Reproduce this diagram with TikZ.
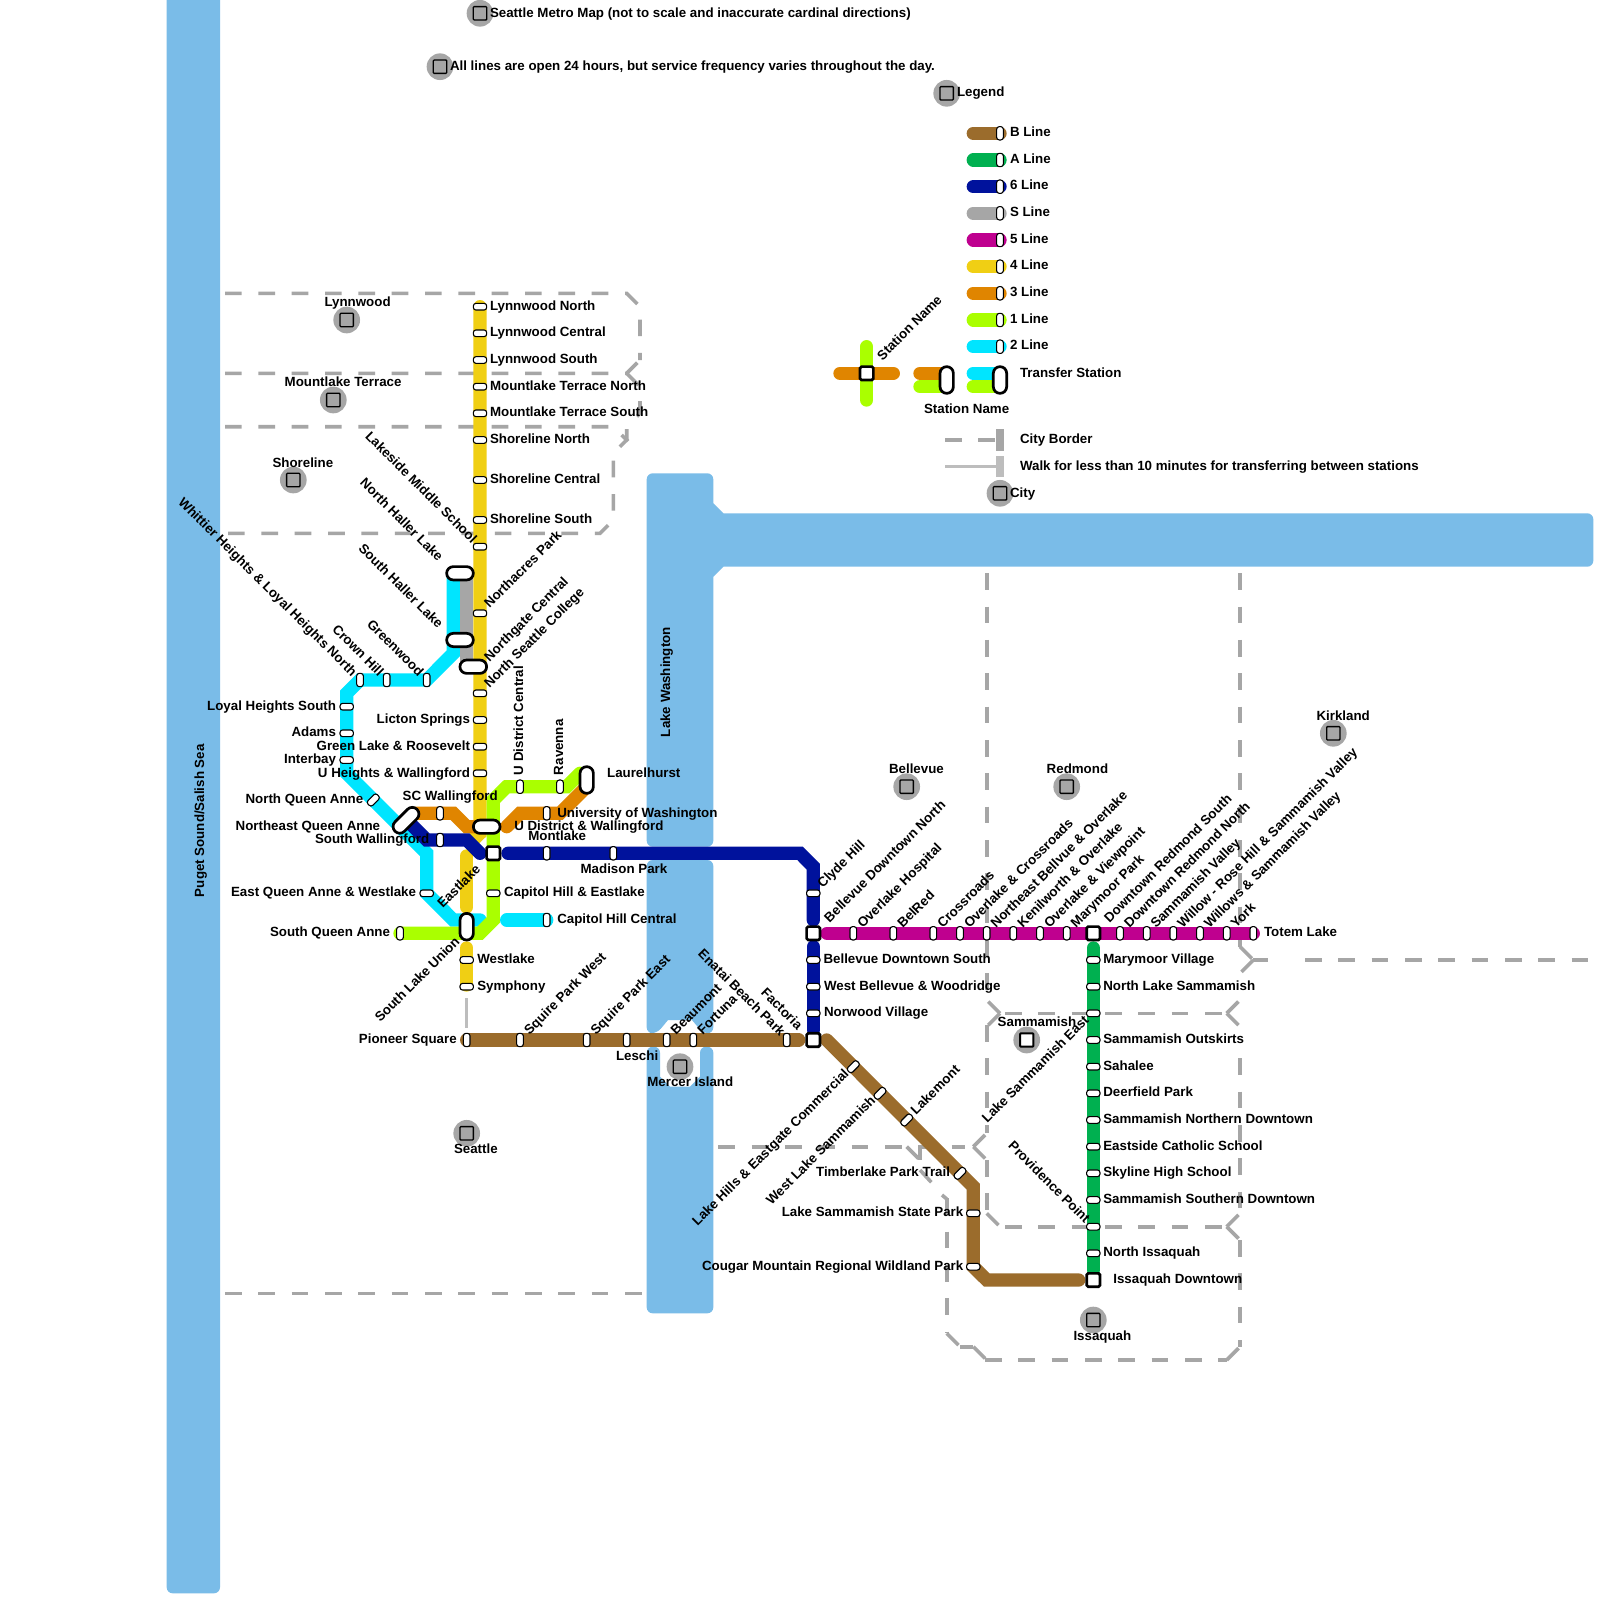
\documentclass[tikz,border=0pt]{standalone}
\usepackage{fontspec}
\setmainfont{Liberation Sans}
\newcounter{lblc}
\definecolor{cLake}{HTML}{7ABCE8}
\definecolor{cB}{HTML}{9B6C2C}
\definecolor{cA}{HTML}{00B050}
\definecolor{cSix}{HTML}{00129C}
\definecolor{cS}{HTML}{A6A6A6}
\definecolor{cFive}{HTML}{BF008F}
\definecolor{cFour}{HTML}{F0CF14}
\definecolor{cThree}{HTML}{E08500}
\definecolor{cOne}{HTML}{AAFF00}
\definecolor{cTwo}{HTML}{00E5FF}
\definecolor{cBorder}{HTML}{A6A6A6}
\definecolor{cWalk}{HTML}{BDBDBD}
\tikzset{
 lake/.style={fill=cLake,draw=none},
 metro/.style={line width=13.33pt,line cap=round,line join=miter,miter limit=10},
 border/.style={draw=cBorder,line width=3.6pt,dash pattern=on 16.67pt off 16.67pt,line cap=butt},
 walkline/.style={draw=cWalk,line width=2.7pt},
 txt/.style={inner sep=0pt,outer sep=0pt,font=\fontsize{13.33pt}{16pt}\selectfont\bfseries},
 stH/.style={draw=black,fill=white,line width=1.1pt,rectangle,rounded corners=2.6pt,inner sep=0pt,minimum width=13.33pt,minimum height=6.67pt},
 stV/.style={draw=black,fill=white,line width=1.1pt,rectangle,rounded corners=2.6pt,inner sep=0pt,minimum width=6.67pt,minimum height=13.33pt},
 stD/.style={stH,rotate=45},
 xferH/.style={draw=black,fill=white,line width=2.7pt,rectangle,rounded corners=6.6pt,inner sep=0pt,minimum width=26.67pt,minimum height=13.33pt},
 xferV/.style={draw=black,fill=white,line width=2.7pt,rectangle,rounded corners=6.6pt,inner sep=0pt,minimum width=13.33pt,minimum height=26.67pt},
 xferD/.style={xferH,minimum width=31pt,rotate=45},
 sqst/.style={draw=black,fill=white,line width=2.7pt,rectangle,rounded corners=1.5pt,inner sep=0pt,minimum size=13.33pt},
 cityc/.style={circle,fill=cS,draw=none,inner sep=0pt,minimum size=26.67pt},
 citys/.style={rectangle,draw=black,fill=cS,line width=1.3pt,rounded corners=.8pt,inner sep=0pt,minimum size=13.33pt},
 cityw/.style={citys,fill=white,line width=2pt},
}
\newcommand\TL[3]{\stepcounter{lblc}\node[txt,anchor=base west] (t\arabic{lblc}) at (#1,#2) {#3};}
\newcommand\TR[3]{\stepcounter{lblc}\node[txt,anchor=base east] (t\arabic{lblc}) at (#1,#2) {#3};}
\newcommand\TU[3]{\stepcounter{lblc}\node[txt,anchor=base west,rotate=45] (t\arabic{lblc}) at ([shift={(-0.5,2)}]#1,#2) {#3};}
\newcommand\TE[3]{\stepcounter{lblc}\node[txt,anchor=base east,rotate=45] (t\arabic{lblc}) at ([shift={(-0.5,-2)}]#1,#2) {#3};}
\newcommand\TD[3]{\stepcounter{lblc}\node[txt,anchor=base east,rotate=-45] (t\arabic{lblc}) at ([shift={(4.5,4)}]#1,#2) {#3};}
\newcommand\TV[3]{\stepcounter{lblc}\node[txt,anchor=base west,rotate=90] (t\arabic{lblc}) at (#1,#2) {#3};}
\newcommand\City[4][citys]{\node[cityc] (cc#2) at (#3,#4) {};\node[#1] (cs#2) at (#3,#4) {};}
\newcommand\Cc[3]{\coordinate (#1) at (#2,#3);}
\begin{document}
\begin{tikzpicture}[x=1pt,y=-1pt]
\useasboundingbox (0,0) rectangle (1600,1600);
\clip (0,0) rectangle (1600,1600);
\fill[white] (0,0) rectangle (1600,1600);
% water
\fill[lake,rounded corners=6pt] (166.7,-20) -- (220,-20) -- (220,1593.3) -- (166.7,1593.3) -- cycle;
\fill[lake,rounded corners=6pt] (646.7,473.3) -- (713.3,473.3) [sharp corners] -- (713.3,503.3) -- (723.3,513.3) [rounded corners=6pt] -- (1593.3,513.3) -- (1593.3,566.7) [sharp corners] -- (723.3,566.7) -- (713.3,576.7) [rounded corners=6pt] -- (713.3,846.7) -- (646.7,846.7) -- cycle;
\fill[lake,rounded corners=6pt] (646.7,860) -- (713.3,860) -- (713.3,1033.3) -- (703,1033.3) [sharp corners] -- (692,1020) -- (668,1020) [rounded corners=6pt] -- (657,1033.3) -- (646.7,1033.3) -- cycle;
\fill[lake,rounded corners=6pt] (646.7,1046.7) -- (660,1046.7) [sharp corners] -- (660,1076.7) -- (670,1086.7) -- (690,1086.7) -- (700,1076.7) [rounded corners=6pt] -- (700,1046.7) -- (713.3,1046.7) -- (713.3,1313.3) -- (646.7,1313.3) -- cycle;
% city borders: north-west
\draw[border] (225,293.3) -- (626.7,293.3) -- (640,306.7) -- (640,360);
\draw[border] (225,373.3) -- (626.7,373.3) -- (640,360);
\draw[border] (626.7,373.3) -- (640,386.7) -- (640,413.3) -- (626.7,426.7) -- (626.7,440);
\draw[border] (225,426.7) -- (613.3,426.7) -- (626.7,440) -- (613.3,453.3) -- (613.3,520) -- (600,533.3) -- (225,533.3);
\draw[border] (225,1293.3) -- (647,1293.3);
% city borders: east
\draw[border] (986.7,573.3) -- (986.7,1000);
\draw[border] (1240,573.3) -- (1240,946.7);
\draw[border] (1240,946.7) -- (1253.3,960);
\draw[border] (1253.3,960) -- (1240,973.3);
\draw[border] (1253.3,960) -- (1268,960);
\draw[border] (1305,960) -- (1600,960);
\draw[border] (1226.7,1013.3) -- (1240,1000);
\draw[border] (1226.7,1013.3) -- (1240,1026.7);
\draw[border] (1000,1013.3) -- (986.7,1000);
\draw[border] (1000,1013.3) -- (986.7,1026.7);
\draw[border] (1005,1013.3) -- (1226.7,1013.3);
\draw[border] (986.7,1025) -- (986.7,1133.3);
\draw[border] (973.3,1146.7) -- (986.7,1133.3);
\draw[border] (973.3,1146.7) -- (986.7,1160);
\draw[border] (986.7,1160) -- (986.7,1213.3);
\draw[border] (986.7,1213.3) -- (1000,1226.7);
\draw[border] (1005,1226.7) -- (1226.7,1226.7);
\draw[border] (1240,1058.3) -- (1240,1213.3);
\draw[border] (1226.7,1226.7) -- (1240,1213.3);
\draw[border] (1226.7,1226.7) -- (1240,1240);
\draw[border] (1240,1240) -- (1240,1346.7);
\draw[border] (1226.7,1360) -- (1240,1346.7);
\draw[border] (985,1360) -- (1226.7,1360);
% city borders: south
\draw[border] (718.3,1146.7) -- (965,1146.7);
\draw[border] (920,1146.7) -- (920,1160);
\draw[border] (906.7,1146.7) -- (920,1160);
\draw[border] (920,1170) -- (932,1183);
\draw[border] (942,1195) -- (946.7,1199);
\draw[border] (946.7,1198.3) -- (946.7,1333.3);
\draw[border] (946.7,1333.3) -- (960,1346.7);
\draw[border] (960,1346.7) -- (973.3,1346.7);
\draw[border] (973.3,1346.7) -- (986.7,1360);
% walking link
\Cc{wa}{466.7}{998}\Cc{wb}{466.7}{1028}
\draw[walkline] (wa) -- (wb);
% line coordinates
\Cc{yA}{480}{306.7}\Cc{yB}{480}{833.3}\Cc{yC}{473}{840}
\Cc{yD}{466.7}{856}\Cc{yE}{466.7}{907}\Cc{yF}{466.7}{948}\Cc{yG}{466.7}{985}
\Cc{sA}{466.7}{573.3}\Cc{sB}{466.7}{666.7}
\Cc{cA}{453.3}{573.3}\Cc{cB}{453.3}{653.3}\Cc{cC}{426.7}{680}\Cc{cD}{360}{680}\Cc{cE}{346.7}{693.3}\Cc{cF}{346.7}{773.3}\Cc{cG}{426.7}{853.3}\Cc{cH}{426.7}{893.3}\Cc{cI}{453.3}{920}\Cc{cJ}{480}{920}
\Cc{cK}{506.7}{920}\Cc{cL}{546.7}{920}
\Cc{lA}{400}{933.3}\Cc{lB}{480}{933.3}\Cc{lC}{493.3}{920}\Cc{lD}{493.3}{800}\Cc{lE}{506.7}{786.7}\Cc{lF}{566.7}{786.7}\Cc{lG}{580}{773.3}
\Cc{oA}{416}{813.3}\Cc{oB}{453.3}{813.3}\Cc{oC}{466.7}{826.7}\Cc{oD}{486.7}{826.7}
\Cc{oE}{506.7}{826.7}\Cc{oF}{520}{813.3}\Cc{oG}{560}{813.3}\Cc{oH}{586.7}{786.7}
\Cc{bA}{409}{822.3}\Cc{bB}{426.7}{840}\Cc{bC}{466.7}{840}\Cc{bD}{480}{853.3}
\Cc{bE}{508}{853.3}\Cc{bF}{800}{853.3}\Cc{bG}{813.3}{866.7}\Cc{bH}{813.3}{920}
\Cc{bI}{813.3}{946.7}\Cc{bJ}{813.3}{1030}
\Cc{uA}{466.7}{1040}\Cc{uB}{798.7}{1040}\Cc{uC}{826.7}{1040}\Cc{uD}{973.3}{1186.7}\Cc{uE}{973.3}{1266.7}\Cc{uF}{986.7}{1280}\Cc{uG}{1078.7}{1280}
\Cc{mA}{827}{933.3}\Cc{mB}{1253.3}{933.3}
\Cc{gA}{1093.3}{948}\Cc{gB}{1093.3}{1270}
% metro lines
\draw[metro,cFour] (yA) -- (yB) -- (yC);
\draw[metro,cFour] (yD) -- (yE);
\draw[metro,cFour] (yF) -- (yG);
\draw[metro,cS] (sA) -- (sB);
\draw[metro,cTwo] (cA) -- (cB) -- (cC) -- (cD) -- (cE) -- (cF) -- (cG) -- (cH) -- (cI) -- (cJ);
\draw[metro,cTwo] (cK) -- (cL);
\draw[metro,cOne] (lA) -- (lB) -- (lC) -- (lD) -- (lE) -- (lF) -- (lG);
\draw[metro,cThree] (oA) -- (oB) -- (oC) -- (oD);
\draw[metro,cThree] (oE) -- (oF) -- (oG) -- (oH);
\draw[metro,cSix] (bA) -- (bB) -- (bC) -- (bD);
\draw[metro,cSix] (bE) -- (bF) -- (bG) -- (bH);
\draw[metro,cSix] (bI) -- (bJ);
\draw[metro,cB] (uA) -- (uB);
\draw[metro,cB] (uC) -- (uD) -- (uE) -- (uF) -- (uG);
\draw[metro,cFive] (mA) -- (mB);
\draw[metro,cA] (gA) -- (gB);
% 4 line stations
\foreach \n/\y in {a/306.7,b/333.3,c/360,d/386.7,e/413.3,f/440,g/480,h/520,i/546.7,j/613.3,k/693.3,l/720,m/746.7,n/773.3}{\node[stH] (y\n) at (480,\y) {};}
\node[stH] (yo) at (466.7,960) {};
\node[stH] (yp) at (466.7,986.7) {};
% 2 line stations
\foreach \n/\x in {a/360,b/386.7,c/426.7}{\node[stV] (c\n) at (\x,680) {};}
\foreach \n/\y in {d/706.7,e/733.3,f/760}{\node[stH] (c\n) at (346.7,\y) {};}
\node[stD] (cq) at (373.3,800) {};
\node[stH] (cr) at (426.7,893.3) {};
\node[stV] (cs) at (546.7,920) {};
% 1 line stations
\node[stV] (la) at (400,933.3) {};
\node[stH] (lb) at (493.3,893.3) {};
\node[stV] (lc) at (520,786.7) {};
\node[stV] (ld) at (560,786.7) {};
% 3 line stations
\node[stV] (oa) at (440,813.3) {};
\node[stV] (ob) at (546.7,813.3) {};
% 6 line stations
\node[stV] (ba) at (440,840) {};
\node[stV] (bb) at (546.7,853.3) {};
\node[stV] (bc) at (613.3,853.3) {};
\foreach \n/\y in {d/893.3,e/960,f/986.7,g/1013.3}{\node[stH] (b\n) at (813.3,\y) {};}
% B line stations
\foreach \n/\x in {a/466.7,b/520,c/586.7,d/626.7,e/666.7,f/693.3,g/786.7}{\node[stV] (u\n) at (\x,1040) {};}
\node[stD] (uh) at (853.3,1066.7) {};
\node[stD] (ui) at (880,1093.3) {};
\node[stD] (uj) at (906.7,1120) {};
\node[stD] (uk) at (960,1173.3) {};
\node[stH] (ul) at (973.3,1213.3) {};
\node[stH] (um) at (973.3,1266.7) {};
% 5 line stations
\foreach \n/\x in {a/853.3,b/893.3,c/933.3,d/960,e/986.7,f/1013.3,g/1040,h/1066.7,i/1120,j/1146.7,k/1173.3,l/1200,m/1226.7,n/1253.3}{\node[stV] (m\n) at (\x,933.3) {};}
% A line stations
\foreach \n/\y in {a/960,b/986.7,c/1013.3,d/1040,e/1066.7,f/1093.3,g/1120,h/1146.7,i/1173.3,j/1200,k/1226.7,l/1253.3}{\node[stH] (g\n) at (1093.3,\y) {};}
% transfers
\node[xferV] (x1) at (466.7,926.7) {};
\node[xferV] (x2) at (586.7,780) {};
\node[xferH] (x3) at (460,573.3) {};
\node[xferH] (x4) at (460,640) {};
\node[xferH] (x5) at (473.3,666.7) {};
\node[xferH] (x6) at (486.7,826.7) {};
\node[xferD] (x7) at (406,820.3) {};
\node[sqst] (q1) at (493.3,853.3) {};
\node[sqst] (q2) at (813.3,933.3) {};
\node[sqst] (q3) at (813.3,1040) {};
\node[sqst] (q4) at (1093.3,933.3) {};
\node[sqst] (q5) at (1093.3,1280) {};
% legend lines
\foreach \n/\c/\y in {a/cB/133.3,b/cA/160,c/cSix/186.7,d/cS/213.3,e/cFive/240,f/cFour/266.7,g/cThree/293.3,h/cOne/320,i/cTwo/346.7}{
 \coordinate (ls\n) at (973.3,\y);
 \coordinate (le\n) at (1000,\y);
 \draw[metro,\c] (ls\n) -- (le\n);
 \node[stV] (lg\n) at (1000,\y) {};
}
\TL{1010}{136.5}{B Line}\TL{1010}{163.2}{A Line}\TL{1010}{189.9}{6 Line}\TL{1010}{216.5}{S Line}\TL{1010}{243.2}{5 Line}\TL{1010}{269.9}{4 Line}\TL{1010}{296.5}{3 Line}\TL{1010}{323.2}{1 Line}\TL{1010}{349.9}{2 Line}
% legend transfer samples
\Cc{eA}{840}{373.3}\Cc{eB}{893.3}{373.3}\Cc{eC}{866.7}{346.7}\Cc{eD}{866.7}{400}
\draw[metro,cThree] (eA) -- (eB);
\draw[metro,cOne] (eC) -- (eD);
\node[sqst] (eq) at (866.7,373.3) {};
\Cc{fA}{920}{373.3}\Cc{fB}{946.7}{373.3}\Cc{fC}{920}{386.7}\Cc{fD}{946.7}{386.7}
\draw[metro,cThree] (fA) -- (fB);
\draw[metro,cOne] (fC) -- (fD);
\node[xferV] (ex) at (946.7,380) {};
\Cc{hA}{973.3}{373.3}\Cc{hB}{1000}{373.3}\Cc{hC}{973.3}{386.7}\Cc{hD}{1000}{386.7}
\draw[metro,cTwo] (hA) -- (hB);
\draw[metro,cOne] (hC) -- (hD);
\node[xferV] (ey) at (1000,380) {};
\TL{1020}{377}{Transfer Station}
\TL{924}{413}{Station Name}
\TU{883}{359}{Station Name}
\Cc{dA}{945}{440}\Cc{dB}{996}{440}
\draw[border] (dA) -- (dB);
\fill[cBorder] (996,429.3) rectangle (1004,450.7);
\TL{1020}{443}{City Border}
\Cc{vA}{945}{466.7}\Cc{vB}{996}{466.7}
\draw[walkline] (vA) -- (vB);
\fill[cWalk] (996,456) rectangle (1004,477.3);
\TL{1020}{470}{Walk for less than 10 minutes for transferring between stations}
% cities
\City{a}{480}{13.3}\City{b}{440}{66.7}\City{c}{946.7}{93.3}\City{d}{1000}{493.3}
\City{e}{346.7}{320}\City{f}{333.3}{400}\City{g}{293.3}{480}\City{h}{466.7}{1133.3}
\City{i}{906.7}{786.7}\City{j}{1066.7}{786.7}\City{k}{1333.3}{733.3}\City[cityw]{l}{1026.7}{1040}
\City{m}{680}{1066.7}\City{n}{1093.3}{1320}
\TL{490}{18}{Seattle Metro Map (not to scale and inaccurate cardinal directions)}
\TL{450}{71}{All lines are open 24 hours, but service frequency varies throughout the day.}
\TL{957}{97}{Legend}
\TL{1010}{497}{City}
\TL{324.5}{306}{Lynnwood}
\TL{284.7}{386.6}{Mountlake Terrace}
\TL{272.5}{467}{Shoreline}
\TL{454}{1153}{Seattle}
\TL{889}{773}{Bellevue}
\TL{1046.7}{773}{Redmond}
\TL{1316.5}{720}{Kirkland}
\TL{997.7}{1026.5}{Sammamish}
\TL{647.3}{1086.5}{Mercer Island}
\TL{1073.5}{1340}{Issaquah}
% water names
\TV{204}{897}{Puget Sound/Salish Sea}
\TV{670}{737}{Lake Washington}
% 4 line labels
\TL{490}{310}{Lynnwood North}\TL{490}{336.7}{Lynnwood Central}\TL{490}{363.3}{Lynnwood South}\TL{490}{390}{Mountlake Terrace North}\TL{490}{416.7}{Mountlake Terrace South}\TL{490}{443.3}{Shoreline North}\TL{490}{483.3}{Shoreline Central}\TL{490}{523.3}{Shoreline South}
\TD{467}{540}{Lakeside Middle School}
\TU{490}{606.7}{Northacres Park}
\TU{490}{660}{Northgate Central}
\TU{490}{686.7}{North Seattle College}
\TR{470}{723.5}{Licton Springs}\TR{470}{750.2}{Green Lake \& Roosevelt}\TR{470}{777}{U Heights \& Wallingford}
\TE{481.5}{872.5}{Eastlake}
\TE{461}{944.7}{South Lake Union}
\TL{477.3}{963}{Westlake}\TL{477.3}{990}{Symphony}
% 2 line labels
\TD{433}{558}{North Haller Lake}
\TD{433}{625}{South Haller Lake}
\TD{347}{673}{Whittier Heights \& Loyal Heights North}
\TD{373.7}{673}{Crown Hill}
\TD{413.7}{673}{Greenwood}
\TR{336}{710}{Loyal Heights South}\TR{336}{736.7}{Adams}\TR{336}{763}{Interbay}\TR{363.3}{803}{North Queen Anne}
\TL{235.7}{830}{Northeast Queen Anne}
\TR{416}{896}{East Queen Anne \& Westlake}
\TL{557.3}{923}{Capitol Hill Central}
% 1 line labels
\TR{390}{936.7}{South Queen Anne}
\TL{504}{896}{Capitol Hill \& Eastlake}
\TV{523}{775}{U District Central}
\TV{563}{775}{Ravenna}
\TL{607.1}{777}{Laurelhurst}
% 3 and 6 line labels
\TL{402.7}{800}{SC Wallingford}
\TL{557.3}{817}{University of Washington}
\TL{514.3}{830}{U District \& Wallingford}
\TR{429.3}{843}{South Wallingford}
\TL{528.3}{840}{Montlake}
\TL{580.6}{873}{Madison Park}
\TU{823.3}{886.7}{Clyde Hill}
\TL{823.5}{963}{Bellevue Downtown South}\TL{824}{990}{West Bellevue \& Woodridge}\TL{824}{1016.7}{Norwood Village}
% B line labels
\TR{456.7}{1043}{Pioneer Square}
\TU{530}{1033.3}{Squire Park West}
\TU{596.7}{1033.3}{Squire Park East}
\TL{616}{1060}{Leschi}
\TU{676.7}{1033.3}{Beaumont}
\TU{703.3}{1033.3}{Fortuna}
\TD{775.2}{1033}{Enatai Beach Park}
\TD{792.5}{1026.3}{Factoria}
\TE{850}{1076.7}{Lake Hills \& Eastgate Commercial}
\TE{876.7}{1103.3}{West Lake Sammamish}
\TU{916.7}{1113.3}{Lakemont}
\TR{950}{1176.7}{Timberlake Park Trail}
\TR{963.3}{1216.7}{Lake Sammamish State Park}
\TR{963.3}{1270}{Cougar Mountain Regional Wildland Park}
% 5 line labels
\TU{830}{921}{Bellevue Downtown North}
\TU{863.3}{926.7}{Overlake Hospital}
\TU{903.3}{926.7}{BelRed}
\TU{943.3}{926.7}{Crossroads}
\TU{970}{926.7}{Overlake \& Crossroads}
\TU{996.7}{926.7}{Northeast Bellvue \& Overlake}
\TU{1023.3}{926.7}{Kenilworth \& Overlake}
\TU{1050}{926.7}{Overlake \& Viewpoint}
\TU{1076.7}{926.7}{Marymoor Park}
\TU{1110}{921}{Downtown Redmond South}
\TU{1130}{926.7}{Downtown Redmond North}
\TU{1156.7}{926.7}{Sammamish Valley}
\TU{1183.3}{926.7}{Willow - Rose Hill \& Sammamish Valley}
\TU{1210}{926.7}{Willows \& Sammamish Valley}
\TU{1236.7}{926.7}{York}
\TL{1264}{936.5}{Totem Lake}
% A line labels
\TL{1103.3}{963}{Marymoor Village}\TL{1103.3}{990}{North Lake Sammamish}
\TE{1090}{1023.3}{Lake Sammamish East}
\TL{1103.3}{1043}{Sammamish Outskirts}\TL{1103.3}{1070}{Sahalee}\TL{1103.3}{1096.5}{Deerfield Park}\TL{1103.3}{1123}{Sammamish Northern Downtown}\TL{1103.3}{1150}{Eastside Catholic School}\TL{1103.3}{1176.5}{Skyline High School}\TL{1103.3}{1203}{Sammamish Southern Downtown}
\TD{1080}{1219.7}{Providence Point}
\TL{1103.3}{1256.5}{North Issaquah}
\TL{1113.3}{1283.5}{Issaquah Downtown}
\end{tikzpicture}
\end{document}
